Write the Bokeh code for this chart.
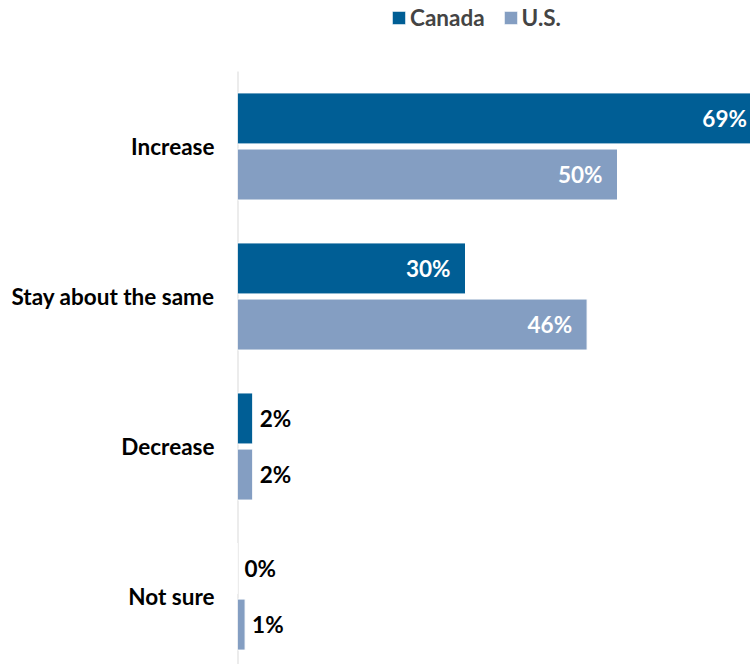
from bokeh.plotting import figure
from bokeh.models import ColumnDataSource, Range1d, Legend, LegendItem
from bokeh.core.properties import value
from bokeh.embed import file_html
from bokeh.resources import INLINE

categories = ["Increase", "Stay about the same", "Decrease", "Not sure"]
canada = [69, 30, 2, 0]
us = [50, 46, 2, 1]

CANADA_COLOR = "#005E95"
US_COLOR = "#849EC2"
FONT = "Lato"
FS = "22.5px"

n = len(categories)
pos = [n - 1 - i for i in range(n)]  # top to bottom

Y0, Y1, YTOP = -0.453, 3.5, 3.973
p = figure(width=750, height=664, output_backend="svg", toolbar_location=None,
           x_range=Range1d(0, 67.5), y_range=Range1d(Y0, YTOP),
           min_border_left=237, min_border_right=0, min_border_top=0,
           min_border_bottom=0)
p.outline_line_color = None
p.xgrid.visible = False
p.ygrid.visible = False
p.xaxis.visible = False
p.background_fill_color = "white"
p.border_fill_color = "white"

# vertical category axis line
p.segment(x0=[0], y0=[Y0], x1=[0], y1=[Y1], line_color="#D9D9D9", line_width=2)

off = 0.187
h = 0.34
src_c = ColumnDataSource(dict(y=[v + off for v in pos], x=canada))
src_u = ColumnDataSource(dict(y=[v - off for v in pos], x=us))

r_c = p.hbar(y="y", right="x", left=0, height=h, source=src_c,
             fill_color=CANADA_COLOR, line_color="white", line_width=1)
r_u = p.hbar(y="y", right="x", left=0, height=h, source=src_u,
             fill_color=US_COLOR, line_color="white", line_width=1)

def split(vals, ys):
    inside = dict(x=[], y=[], t=[])
    outside = dict(x=[], y=[], t=[])
    for v, y in zip(vals, ys):
        d = inside if v >= 10 else outside
        d["x"].append(v); d["y"].append(y); d["t"].append(f"{v}%")
    return inside, outside

ins_c, out_c = split(canada, [v + off for v in pos])
ins_u, out_u = split(us, [v - off for v in pos])
for d in (ins_c, ins_u):
    p.text(x="x", y="y", text="t", source=ColumnDataSource(d),
           text_align="right", text_baseline="middle", x_offset=-15,
           text_color="white", text_font=value(FONT), text_font_style="bold",
           text_font_size=FS)
for d in (out_c, out_u):
    p.text(x="x", y="y", text="t", source=ColumnDataSource(d),
           text_align="left", text_baseline="middle", x_offset=7,
           text_color="black", text_font=value(FONT), text_font_style="bold",
           text_font_size=FS)

ax = p.yaxis[0]
ax.ticker = pos
ax.major_label_overrides = {pv: c for pv, c in zip(pos, categories)}
ax.major_tick_line_color = None
ax.minor_tick_line_color = None
ax.axis_line_color = None
ax.major_label_standoff = 17
ax.major_label_text_font = FONT
ax.major_label_text_font_style = "bold"
ax.major_label_text_font_size = FS
ax.major_label_text_color = "black"

legend = Legend(items=[LegendItem(label="Canada", renderers=[r_c]),
                       LegendItem(label="U.S.", renderers=[r_u])],
                orientation="horizontal", location=(153, 633),
                border_line_color=None, background_fill_alpha=0,
                label_text_font=FONT, label_text_font_style="bold",
                label_text_font_size=FS, glyph_width=17, glyph_height=17,
                label_standoff=3, spacing=17, padding=0, margin=0)
p.add_layout(legend)

open("out.html", "w").write(file_html(p, INLINE))
